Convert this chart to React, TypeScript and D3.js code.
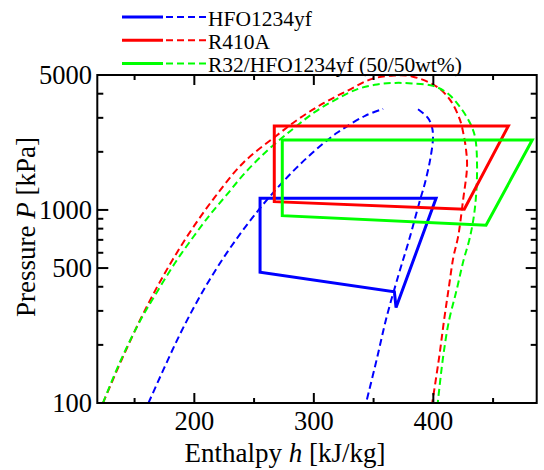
import React from 'react';
import * as d3 from 'd3';

// ---------- data ----------
const xMajorTicks = [200, 300, 400];
const xMinorTicks = [150, 250, 350, 450];
const yMajorTicks = [100, 500, 1000, 5000];
const yMinorTicks = [200, 300, 400, 600, 700, 800, 900, 2000, 3000, 4000];

// saturation domes [h kJ/kg, P kPa]
const hfoDome: [number, number][] = [
  [161.6, 100], [174.6, 151], [187.2, 222], [200, 316], [213.2, 439], [226.6, 592],
  [240.5, 783], [254.8, 1018], [269.6, 1302], [285, 1642], [301.5, 2044], [319.8, 2517],
  [342.9, 3073], [358, 3340],
];
const hfoDomeVap: [number, number][] = [
  [387.2, 3325], [395.6, 2989], [398.9, 2681], [399.7, 2358], [397.3, 1816], [393, 1380],
  [388.9, 1127], [379.7, 699], [370.9, 461], [361, 280], [352.5, 167], [343.7, 100],
];
const r410aDome: [number, number][] = [
  [123.6, 100], [138.7, 165], [154.6, 269], [168.0, 390], [182.2, 557], [198.1, 797],
  [217.3, 1168], [240.8, 1752], [268.4, 2417], [288.5, 2997], [308.5, 3584], [327.8, 4137],
  [348.7, 4773], [367.1, 4970], [382.2, 4917], [403.1, 4340], [414.0, 3715], [422.3, 2927],
  [425.7, 2388], [427.4, 2045], [428.2, 1670], [424.9, 1127], [420.7, 725], [416.8, 571],
  [413.0, 398], [409.0, 269], [405.0, 175], [399.1, 100],
];
const mixDome: [number, number][] = [
  [123.5, 100], [137.8, 163], [154.1, 263], [168.8, 376], [183.8, 531], [199.7, 733],
  [213.6, 953], [227.0, 1196], [242.4, 1555], [261.7, 2046], [282.6, 2628], [301.0, 3220],
  [319.4, 3759], [337.0, 4236], [352.9, 4469], [368.0, 4550], [382.2, 4522], [399.7, 4390],
  [411.5, 4037], [422.3, 3418], [430.7, 2820], [434.9, 2388], [436.6, 1670], [434.9, 1036],
  [430.7, 725], [425, 540], [419.5, 385], [413, 265], [408, 170], [403.7, 100],
];

// cycles [h, P]
const hfoCycle: [number, number][] = [
  [255, 1150], [402.3, 1150], [368.8, 312], [367.4, 377], [255, 476],
];
const r410aCycle: [number, number][] = [
  [266.9, 2724], [462.8, 2724], [425.9, 1008], [266.9, 1104],
];
const mixCycle: [number, number][] = [
  [273.6, 2305], [482.8, 2305], [444.1, 833], [273.6, 934],
];

const legendLabels = ['HFO1234yf', 'R410A', 'R32/HFO1234yf (50/50wt%)'];
const colors = ['#0000ff', '#ff0000', '#00ff00'];

// ---------- layout ----------
const W = 544;
const H = 470;
const L = 97.3, R = 536.7, T = 75, B = 403;
const FONT = '"Liberation Serif", "Times New Roman", serif';

export default function App() {
  const x = d3.scaleLinear().domain([118.8, 486.5]).range([L, R]);
  const y = d3.scaleLog().domain([100, 5000]).range([B, T]);

  const curve = d3.line<[number, number]>()
    .x(d => x(d[0])).y(d => y(d[1]))
    .curve(d3.curveCatmullRom.alpha(0.5));
  const poly = d3.line<[number, number]>()
    .x(d => x(d[0])).y(d => y(d[1]));

  const domes = [[hfoDome, hfoDomeVap], [r410aDome], [mixDome]];
  const cycles = [hfoCycle, r410aCycle, mixCycle];
  const dash = '7,4';

  return (
    <svg width={W} height={H} style={{ position: 'absolute', left: 0, top: 0, background: '#fff' }}
      fontFamily={FONT}>
      <defs>
        <clipPath id="plotclip">
          <rect x={L} y={T} width={R - L} height={B - T} />
        </clipPath>
      </defs>
      <rect x={0} y={0} width={W} height={H} fill="#fff" />

      <g clipPath="url(#plotclip)">
        {domes.map((arr, i) => arr.map((d, j) => (
          <path key={`d${i}-${j}`} d={curve(d) || ''} fill="none" stroke={colors[i]}
            strokeWidth={2} strokeDasharray={dash} />
        )))}
        {cycles.map((c, i) => (
          <path key={`c${i}`} d={(poly(c) || '') + 'Z'} fill="none" stroke={colors[i]}
            strokeWidth={3} strokeLinejoin="miter" />
        ))}
      </g>

      {/* frame */}
      <rect x={L} y={T} width={R - L} height={B - T} fill="none" stroke="#000" strokeWidth={2} />

      {/* x ticks */}
      {xMajorTicks.map(t => (
        <g key={`xm${t}`}>
          <line x1={x(t)} x2={x(t)} y1={B} y2={B - 10} stroke="#000" strokeWidth={2} />
          <line x1={x(t)} x2={x(t)} y1={T} y2={T + 10} stroke="#000" strokeWidth={2} />
          <text x={x(t)} y={B + 27} fontSize={26.5} textAnchor="middle">{t}</text>
        </g>
      ))}
      {xMinorTicks.map(t => (
        <g key={`xn${t}`}>
          <line x1={x(t)} x2={x(t)} y1={B} y2={B - 5} stroke="#000" strokeWidth={2} />
          <line x1={x(t)} x2={x(t)} y1={T} y2={T + 5} stroke="#000" strokeWidth={2} />
        </g>
      ))}

      {/* y ticks */}
      {yMajorTicks.map(t => (
        <g key={`ym${t}`}>
          <line x1={L} x2={L + 11} y1={y(t)} y2={y(t)} stroke="#000" strokeWidth={2} />
          <line x1={R} x2={R - 11} y1={y(t)} y2={y(t)} stroke="#000" strokeWidth={2} />
          <text x={92} y={y(t) + 9} fontSize={26.5} textAnchor="end">{t}</text>
        </g>
      ))}
      {yMinorTicks.map(t => (
        <g key={`yn${t}`}>
          <line x1={L} x2={L + 6} y1={y(t)} y2={y(t)} stroke="#000" strokeWidth={2} />
          <line x1={R} x2={R - 6} y1={y(t)} y2={y(t)} stroke="#000" strokeWidth={2} />
        </g>
      ))}

      {/* axis titles */}
      <text x={285} y={462} fontSize={27} textAnchor="middle">
        Enthalpy <tspan fontStyle="italic">h</tspan> [kJ/kg]
      </text>
      <text transform={`translate(35,227) rotate(-90)`} fontSize={27} textAnchor="middle">
        Pressure <tspan fontStyle="italic">P</tspan> [kPa]
      </text>

      {/* legend */}
      {legendLabels.map((lab, i) => {
        const ly = 17 + i * 23.3;
        return (
          <g key={`lg${i}`}>
            <line x1={122} x2={163} y1={ly} y2={ly} stroke={colors[i]} strokeWidth={3} />
            <line x1={166} x2={208} y1={ly} y2={ly} stroke={colors[i]} strokeWidth={2}
              strokeDasharray={dash} />
            <text x={208} y={ly + 8.5} fontSize={21.5}>{lab}</text>
          </g>
        );
      })}
    </svg>
  );
}
